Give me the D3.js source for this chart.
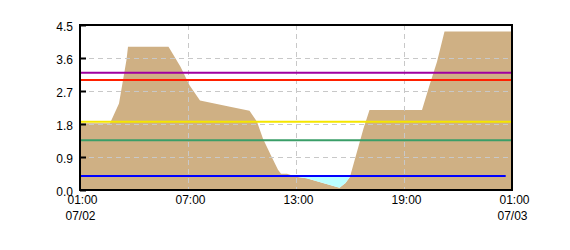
<!DOCTYPE html>
<html>
<head>
<meta charset="utf-8">
<script src="https://cdn.jsdelivr.net/npm/d3@7"></script>
<style>
  body { margin: 0; background: #fff; }
  text { font-family: "Liberation Sans", Arial, sans-serif; font-size: 12px; fill: #000; }
</style>
</head>
<body>
<div id="chart"></div>
<script>
// level readings
const times = [
  "07/02 01:00", "07/02 02:40", "07/02 03:10", "07/02 03:35", "07/02 03:40",
  "07/02 05:55", "07/02 06:35", "07/02 07:05", "07/02 07:40", "07/02 09:20",
  "07/02 10:25", "07/02 10:50", "07/02 11:10", "07/02 11:35", "07/02 12:00",
  "07/02 12:10", "07/02 12:30", "07/02 13:00", "07/02 13:35", "07/02 15:25",
  "07/02 15:45", "07/02 16:00", "07/02 16:20", "07/02 16:45", "07/02 17:05",
  "07/02 20:00", "07/02 20:25", "07/02 20:50", "07/02 21:15", "07/03 01:00"
];
const levels = [
  1.82, 1.82, 2.36, 3.55, 3.91,
  3.91, 3.36, 2.86, 2.44, 2.27,
  2.16, 1.86, 1.40, 0.97, 0.55,
  0.44, 0.44, 0.36, 0.32, 0.06,
  0.19, 0.36, 0.95, 1.68, 2.18,
  2.18, 2.86, 3.5, 4.32, 4.32
];

// horizontal reference levels
const refNames = ["purple", "red", "yellow", "green", "blue"];
const refValues = [3.2, 3.0, 1.86, 1.36, 0.38];
const refColors = ["#a000a0", "#ff2000", "#f5e600", "#3a9e68", "#0000ff"];
const refEnds = ["07/03 01:00", "07/03 01:00", "07/03 01:00", "07/03 01:00", "07/03 00:39"];
const lowLevel = 0.38; // below this the gap is filled cyan

const yTicks = [0, 0.9, 1.8, 2.7, 3.6, 4.5];
const xTicks = ["07/02 01:00", "07/02 07:00", "07/02 13:00", "07/02 19:00", "07/03 01:00"];
const xTickLabels = [["01:00", "07/02"], ["07:00", ""], ["13:00", ""], ["19:00", ""], ["01:00", "07/03"]];

const width = 570,
  height = 250,
  margin = { top: 25, right: 58, bottom: 60, left: 80 };
const innerW = width - margin.left - margin.right,
  innerH = height - margin.top - margin.bottom;

const parse = d3.timeParse("%m/%d %H:%M");
const data = times.map((t, i) => ({ date: parse(t), value: levels[i] }));

const svg = d3.select("#chart").append("svg")
  .attr("width", width)
  .attr("height", height);

const x = d3.scaleTime()
  .domain([parse(xTicks[0]), parse(xTicks[xTicks.length - 1])])
  .range([margin.left, width - margin.right]);

const y = d3.scaleLinear()
  .domain([0, 4.5])
  .range([height - margin.bottom, margin.top]);

// tan area
svg.append("path")
  .datum(data)
  .attr("fill", "#cfb084")
  .attr("d", d3.area()
    .x(d => x(d.date))
    .y0(y(0))
    .y1(d => y(d.value)));

// cyan where the level drops under the low line
svg.append("path")
  .datum(data)
  .attr("fill", "#bbffff")
  .attr("d", d3.area()
    .x(d => x(d.date))
    .y0(y(lowLevel))
    .y1(d => y(Math.min(d.value, lowLevel))));

// grid
svg.append("g")
  .attr("class", "grid")
  .attr("transform", `translate(${margin.left},0)`)
  .call(d3.axisLeft(y).tickValues(yTicks.slice(1, -1)).tickSize(-innerW).tickFormat(""))
  .call(g => g.select(".domain").remove());

svg.append("g")
  .attr("class", "grid")
  .attr("transform", `translate(0,${margin.top})`)
  .call(d3.axisBottom(x).tickValues(xTicks.slice(1, -1).map(parse)).tickSize(innerH).tickSizeOuter(0).tickFormat(""))
  .call(g => g.select(".domain").remove());

svg.selectAll(".grid line")
  .attr("stroke", "#c8c8c8")
  .attr("stroke-dasharray", "5,4");

// reference lines
refNames.forEach((name, i) => {
  svg.append("line")
    .attr("class", `ref ref-${name}`)
    .attr("x1", x.range()[0])
    .attr("x2", x(parse(refEnds[i])))
    .attr("y1", y(refValues[i]))
    .attr("y2", y(refValues[i]))
    .attr("stroke", refColors[i])
    .attr("stroke-width", 2);
});

// frame
svg.append("rect")
  .attr("x", margin.left)
  .attr("y", margin.top)
  .attr("width", innerW)
  .attr("height", innerH)
  .attr("fill", "none")
  .attr("stroke", "#000")
  .attr("stroke-width", 2);

// y axis, ticks pointing inward
svg.append("g")
  .attr("transform", `translate(${margin.left},0)`)
  .call(d3.axisLeft(y).tickValues(yTicks).tickSize(-6).tickPadding(7).tickFormat(d3.format(".1f")))
  .call(g => g.select(".domain").remove())
  .call(g => g.selectAll("line").attr("stroke", "#000").attr("stroke-width", 2))
  .call(g => g.selectAll("text").attr("dy", "0.42em"));

// x axis, two-line labels
const xAxis = svg.append("g")
  .attr("transform", `translate(0,${height - margin.bottom})`)
  .call(d3.axisBottom(x).tickValues(xTicks.map(parse)).tickSize(0).tickPadding(5).tickFormat(""))
  .call(g => g.select(".domain").remove());

xAxis.selectAll(".tick text").each(function (d, i) {
  const t = d3.select(this).attr("dx", 2);
  t.append("tspan").attr("x", 0).text(xTickLabels[i][0]);
  t.append("tspan").attr("x", 0).attr("dy", 16).text(xTickLabels[i][1]);
});
</script>
</body>
</html>
